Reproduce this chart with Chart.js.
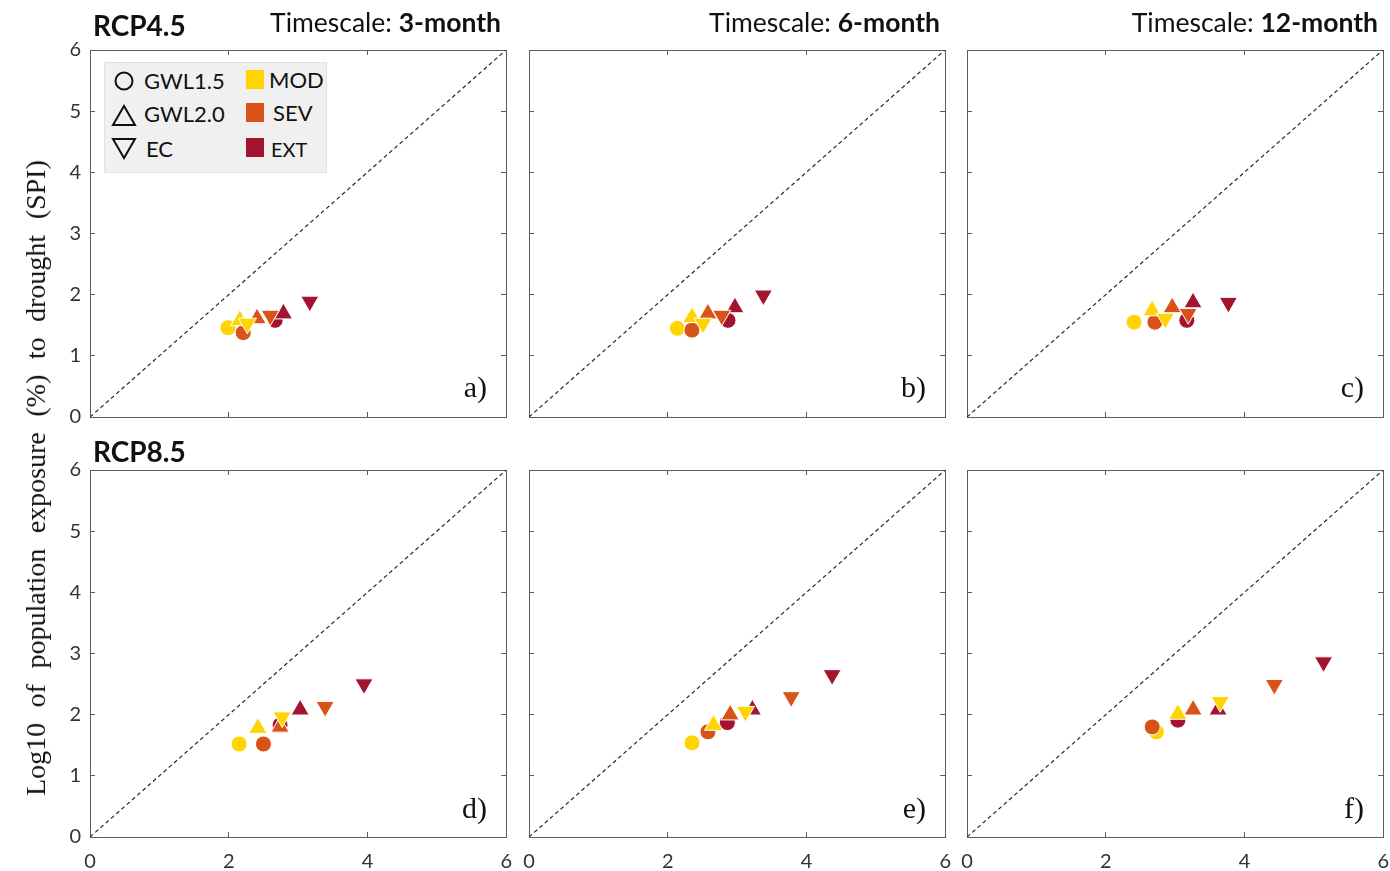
<!DOCTYPE html>
<html>
<head>
<meta charset="utf-8">
<script src="https://cdn.jsdelivr.net/npm/chart.js@4/dist/chart.umd.min.js"></script>
<style>
  html, body { margin:0; padding:0; background:#fff; }
  body { width:1390px; height:871px; position:relative; overflow:hidden; font-family: Lato, "Open Sans", sans-serif; color:#111; }
  .abs { position:absolute; white-space:nowrap; line-height:1; }
  canvas { position:absolute; }
  .rcp { font-weight:700; font-size:28px; }
  .ts { font-size:26.5px; }
  .ts b { font-weight:700; }
  .plab { font-family:"Liberation Serif", "Times New Roman", serif; font-size:30px; color:#111; }
  #ytitle { font-family:"Liberation Serif", "Times New Roman", serif; font-size:28px; word-spacing:8.5px; color:#111;
            left:36px; top:478px; transform: translate(-50%,-50%) rotate(-90deg); }
  #legend { position:absolute; left:104px; top:62px; width:221px; height:109px; background:#f0f0f0; border:1px solid #e2e2e2; z-index:5; }
  .lg { font-size:22px; color:#111; z-index:6; }
  .sq { position:absolute; width:18px; height:19px; z-index:6; }
  svg { position:absolute; z-index:6; overflow:visible; }
</style>
</head>
<body>
<script>
// ---- Data, order of points in each array:
// [GWL1.5 MOD, GWL1.5 SEV, GWL1.5 EXT, GWL2.0 MOD, GWL2.0 SEV, GWL2.0 EXT, EC MOD, EC SEV, EC EXT]
const categories = ['GWL1.5', 'GWL2.0', 'EC'];
const severities = ['MOD', 'SEV', 'EXT'];
const panelLabels = ['a)', 'b)', 'c)', 'd)', 'e)', 'f)'];
const timescales = ['3-month', '6-month', '12-month'];
const scenarios = ['RCP4.5', 'RCP8.5'];
const xTicks = [0, 2, 4, 6];
const yTicks = [0, 1, 2, 3, 4, 5, 6];

const panelA_x = [1.99, 2.21, 2.67, 2.16, 2.41, 2.79, 2.27, 2.60, 3.17];
const panelA_y = [1.46, 1.38, 1.58, 1.58, 1.61, 1.69, 1.53, 1.66, 1.89];
const panelB_x = [2.14, 2.35, 2.87, 2.35, 2.58, 2.97, 2.51, 2.78, 3.38];
const panelB_y = [1.45, 1.42, 1.58, 1.63, 1.69, 1.79, 1.53, 1.66, 1.99];
const panelC_x = [2.41, 2.71, 3.17, 2.67, 2.96, 3.26, 2.86, 3.19, 3.77];
const panelC_y = [1.55, 1.55, 1.58, 1.74, 1.79, 1.87, 1.61, 1.69, 1.87];
const panelD_x = [2.15, 2.50, 2.74, 2.42, 2.74, 3.03, 2.77, 3.39, 3.95];
const panelD_y = [1.52, 1.52, 1.83, 1.78, 1.80, 2.08, 1.96, 2.13, 2.50];
const panelE_x = [2.35, 2.58, 2.86, 2.66, 2.90, 3.22, 3.12, 3.78, 4.37];
const panelE_y = [1.54, 1.72, 1.87, 1.83, 2.00, 2.08, 2.05, 2.29, 2.65];
const panelF_x = [2.73, 2.67, 3.04, 3.04, 3.26, 3.62, 3.65, 4.43, 5.14];
const panelF_y = [1.72, 1.80, 1.91, 2.01, 2.08, 2.08, 2.21, 2.49, 2.86];

const refLine = [0, 6]; // 1:1 line endpoints (axis range)

// ---- styles
const colors = ['#FFD400', '#D95319', '#A2142F'];
const shapeStyle = [
  { pointStyle: 'circle', rot: 0, r: 8 },
  { pointStyle: 'triangle', rot: 0, r: 10.5 },
  { pointStyle: 'triangle', rot: 180, r: 10.5 }
];

const panelsX = [panelA_x, panelB_x, panelC_x, panelD_x, panelE_x, panelF_x];
const panelsY = [panelA_y, panelB_y, panelC_y, panelD_y, panelE_y, panelF_y];

const colLeft = [90, 529, 967];
const rowTop = [50, 470];
const PW = 416, PH = 367;
const L = 40, R = 16, T = 16, B = 36;
const axisColor = '#5c5c5c';
const tickFont = { family: 'Lato', size: 20 };

function addText(html, cls, style) {
  const d = document.createElement('div');
  d.className = 'abs ' + cls;
  d.innerHTML = html;
  Object.assign(d.style, style);
  document.body.appendChild(d);
  return d;
}

function makePanel(idx) {
  const col = idx % 3, row = Math.floor(idx / 3);
  const cv = document.createElement('canvas');
  let cw = PW + L + R, ch = PH + T + B;
  cv.width = cw; cv.height = ch;
  cv.style.width = cw + 'px'; cv.style.height = ch + 'px';
  document.body.appendChild(cv);

  const xs = panelsX[idx], ys = panelsY[idx];
  const datasets = [{
    data: refLine.map(v => ({ x: v, y: v })),
    showLine: true, borderColor: '#2a2a2a', borderWidth: 1.2, borderDash: [4, 3],
    pointRadius: 0, order: 100
  }];
  for (let s = 0; s < 3; s++) {
    for (let c = 0; c < 3; c++) {
      const i = s * 3 + c;
      datasets.push({
        label: categories[s] + ' ' + severities[c],
        data: [{ x: xs[i], y: ys[i] }],
        pointStyle: shapeStyle[s].pointStyle,
        pointRotation: shapeStyle[s].rot,
        pointRadius: shapeStyle[s].r,
        backgroundColor: colors[c],
        borderColor: '#ffffff',
        borderWidth: 1,
        order: 50 - i
      });
    }
  }
  const showX = row === 1, showY = col === 0;
  const gridOpts = { drawOnChartArea: false, drawTicks: true, tickLength: -5, color: axisColor, lineWidth: 1 };
  const borderOpts = { display: true, color: axisColor, width: 1 };
  const chart = new Chart(cv, {
    type: 'scatter',
    data: { datasets },
    options: {
      responsive: false, maintainAspectRatio: false, animation: false, devicePixelRatio: 1,
      layout: { padding: 0 },
      plugins: { legend: { display: false }, tooltip: { enabled: false } },
      scales: {
        x: {
          type: 'linear', position: 'bottom', min: xTicks[0], max: xTicks[xTicks.length - 1],
          afterBuildTicks: (ax) => { ax.ticks = xTicks.map(v => ({ value: v })); },
          ticks: { display: showX, font: tickFont, color: '#333', padding: 18, maxRotation: 0 },
          grid: gridOpts, border: borderOpts,
          afterFit: (ax) => { ax.height = B; }
        },
        x2: {
          type: 'linear', position: 'top', min: xTicks[0], max: xTicks[xTicks.length - 1],
          afterBuildTicks: (ax) => { ax.ticks = xTicks.map(v => ({ value: v })); },
          ticks: { display: false },
          grid: gridOpts, border: borderOpts,
          afterFit: (ax) => { ax.height = T; }
        },
        y: {
          type: 'linear', position: 'left', min: yTicks[0], max: yTicks[yTicks.length - 1],
          afterBuildTicks: (ax) => { ax.ticks = yTicks.map(v => ({ value: v })); },
          ticks: { display: showY, font: tickFont, color: '#333', padding: 14 },
          grid: gridOpts, border: borderOpts,
          afterFit: (ax) => { ax.width = L; }
        },
        y2: {
          type: 'linear', position: 'right', min: yTicks[0], max: yTicks[yTicks.length - 1],
          afterBuildTicks: (ax) => { ax.ticks = yTicks.map(v => ({ value: v })); },
          ticks: { display: false },
          grid: gridOpts, border: borderOpts,
          afterFit: (ax) => { ax.width = R; }
        }
      }
    }
  });

  // make the plot area exactly PW x PH and place it at the panel's position
  for (let k = 0; k < 4; k++) {
    const ca = chart.chartArea;
    const dw = PW - Math.round(ca.right - ca.left);
    const dh = PH - Math.round(ca.bottom - ca.top);
    if (dw === 0 && dh === 0) break;
    cw += dw; ch += dh;
    cv.style.width = cw + 'px'; cv.style.height = ch + 'px';
    chart.resize(cw, ch);
  }
  const ca = chart.chartArea;
  cv.style.left = (colLeft[col] - Math.round(ca.left)) + 'px';
  cv.style.top = (rowTop[row] - Math.round(ca.top)) + 'px';

  // panel letter
  const plotRight = colLeft[col] + PW;
  addText(panelLabels[idx], 'plab', { right: (1390 - (plotRight - 19)) + 'px', top: (row === 0 ? 372 : 793) + 'px' });
}

for (let i = 0; i < 6; i++) makePanel(i);

// titles
addText(scenarios[0], 'rcp', { left: '93px', top: '11px' });
addText(scenarios[1], 'rcp', { left: '93px', top: '437px' });
for (let c = 0; c < 3; c++) {
  const rightEdge = colLeft[c] + PW - 5;
  addText('Timescale: <b>' + timescales[c] + '</b>', 'ts', { right: (1390 - rightEdge) + 'px', top: '9px' });
}

// y title
addText('Log10 of population exposure (%) to drought (SPI)', '', {}).id = 'ytitle';

// legend
const lg = document.createElement('div'); lg.id = 'legend'; document.body.appendChild(lg);
function svgShape(markup, left, top, w, h) {
  const ns = 'http://www.w3.org/2000/svg';
  const s = document.createElementNS(ns, 'svg');
  s.setAttribute('width', w); s.setAttribute('height', h);
  s.style.left = left + 'px'; s.style.top = top + 'px';
  s.innerHTML = markup;
  document.body.appendChild(s);
}
svgShape('<circle cx="10" cy="10" r="8.5" fill="none" stroke="#111" stroke-width="2"/>', 114, 71, 20, 20);
svgShape('<polygon points="12,2 23,21 1,21" fill="none" stroke="#111" stroke-width="2" stroke-linejoin="miter"/>', 112, 104, 24, 22);
svgShape('<polygon points="1,2 23,2 12,21" fill="none" stroke="#111" stroke-width="2" stroke-linejoin="miter"/>', 112, 137, 24, 22);
addText(categories[0], 'lg', { left: '144px', top: '69.5px' });
addText(categories[1], 'lg', { left: '144px', top: '102.5px' });
addText(categories[2], 'lg', { left: '146px', top: '137.5px' });
const sqTops = [70, 103, 138];
for (let c = 0; c < 3; c++) {
  const q = document.createElement('div'); q.className = 'sq';
  q.style.left = '246px'; q.style.top = sqTops[c] + 'px'; q.style.background = colors[c];
  document.body.appendChild(q);
}
addText(severities[0], 'lg', { left: '269px', top: '68.5px' });
addText(severities[1], 'lg', { left: '273px', top: '101.5px' });
addText(severities[2], 'lg', { left: '271px', top: '139px', fontSize: '20px' });
</script>
</body>
</html>
